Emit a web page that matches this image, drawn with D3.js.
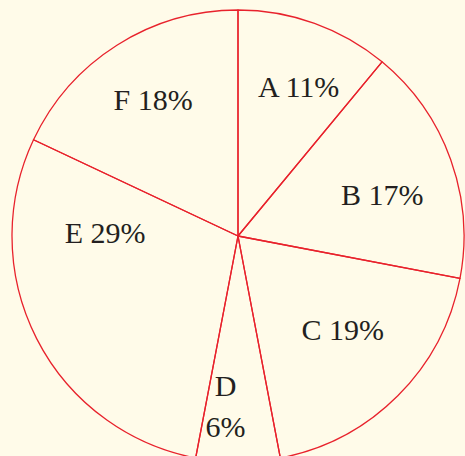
<!DOCTYPE html>
<html>
<head>
<meta charset="utf-8">
<script src="https://cdn.jsdelivr.net/npm/d3@7"></script>
<style>
    html, body { margin: 0; padding: 0; background: #fffbe9; }
    svg { display: block; }
</style>
</head>
<body>
<div class="pie-chart"></div>
<script>
const categories = ["A", "B", "C", "D", "E", "F"];
const shares = [11, 17, 19, 6, 29, 18];

const width = 465;
const height = 456;
const cx = 238;
const cy = 236;
const radius = 226;

const strokeColor = "#e8222c";
const textColor = "#231f20";
const fontSize = 30;

// label placement: nudge from the slice middle (degrees) and distance from centre
const labelNudge = [2.3, 4, -3, 4.2, 28.3, 0.4];
const labelRadius = [161, 150, 141, 171, 133, 160];

const data = categories.map((c, i) => ({name: c, value: shares[i]}));

const svg = d3.select(".pie-chart").append("svg")
    .attr("width", width)
    .attr("height", height);

const g = svg.append("g")
    .attr("transform", `translate(${cx}, ${cy})`);

const pie = d3.pie()
    .sort(null)
    .value(d => d.value);

const arc = d3.arc()
    .innerRadius(0)
    .outerRadius(radius);

const arcs = pie(data);

g.selectAll(".slice")
    .data(arcs).enter()
    .append("path")
    .attr("class", "slice")
    .attr("d", arc)
    .attr("fill", "none")
    .attr("stroke", strokeColor)
    .attr("stroke-width", 1.3)
    .attr("stroke-linejoin", "round");

/* Labels */
const toRad = Math.PI / 180;
const labels = g.selectAll(".label")
    .data(arcs).enter()
    .append("text")
    .attr("class", "label")
    .attr("transform", (d, i) => {
        const a = (d.startAngle + d.endAngle) / 2 + labelNudge[i] * toRad;
        const r = labelRadius[i];
        const p = d3.arc().innerRadius(r).outerRadius(r).startAngle(a).endAngle(a).centroid();
        return `translate(${p[0]}, ${p[1]})`;
    })
    .attr("text-anchor", "middle")
    .style("font-family", "'Liberation Serif', 'Times New Roman', serif")
    .style("font-size", fontSize + "px")
    .style("fill", textColor);

labels.each(function(d) {
    const t = d3.select(this);
    if (d.data.value < 10) {
        // narrow slice: stack name over value
        t.append("tspan").attr("x", 0).attr("dy", "-0.35em").text(d.data.name);
        t.append("tspan").attr("x", 0).attr("dy", "1.37em").text(d.data.value + "%");
    } else {
        t.append("tspan").attr("x", 0).attr("dy", "0.33em").text(`${d.data.name} ${d.data.value}%`);
    }
});
</script>
</body>
</html>
